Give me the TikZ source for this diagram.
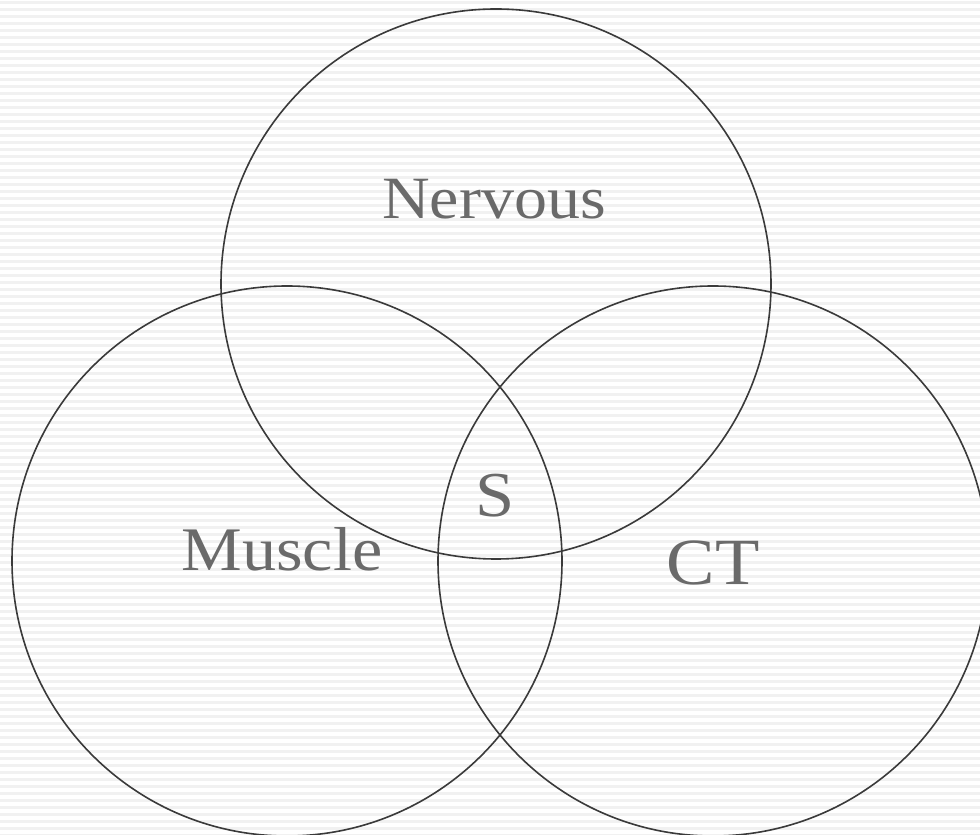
\documentclass[tikz,border=0pt]{standalone}
\usepackage{fontspec}
\newfontfamily\lblfont[FakeStretch=1.1]{Liberation Serif}
\definecolor{ringcol}{HTML}{3A3A3A}
\definecolor{txtcol}{HTML}{6A6A6A}
\definecolor{stripecol}{HTML}{F1F1F1}
\tikzset{
  ring/.style={circle, draw=ringcol, line width=1.6pt, minimum size=550pt, inner sep=0pt},
  lbl/.style={text=txtcol, anchor=base, inner sep=0pt},
  stripe/.style={draw=stripecol, line width=3pt}
}
\begin{document}
\begin{tikzpicture}[x=1pt,y=1pt]
\useasboundingbox (0,0) rectangle (980,835);
\clip (0,0) rectangle (980,835);
\fill[white] (0,0) rectangle (980,835);
\foreach \k in {0,...,119} {
  \draw[stripe] (0,{835-3-7*\k}) -- (980,{835-3-7*\k});
}
\node[ring] (nerv) at (496,551) {};
\node[ring] (musc) at (287,274) {};
\node[ring] (ct) at (713,274) {};
\node[lbl, font=\lblfont\fontsize{60}{60}\selectfont] (tn) at (494,616) {Nervous};
\node[lbl, font=\lblfont\fontsize{62}{62}\selectfont] (tm) at (282,264) {Muscle};
\node[lbl, font=\lblfont\fontsize{66}{66}\selectfont] (tc) at (713,250) {CT};
\node[lbl, font=\lblfont\fontsize{64}{64}\selectfont] (ts) at (495,318) {S};
\end{tikzpicture}
\end{document}
